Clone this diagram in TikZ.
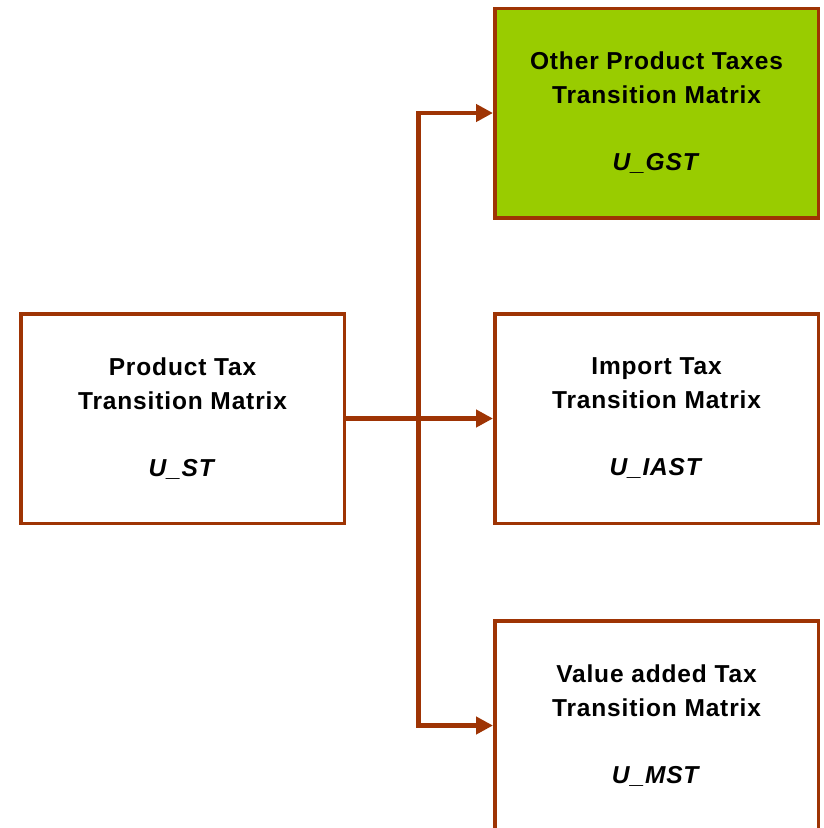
\documentclass[tikz,border=0pt]{standalone}
\usepackage{fontspec}
\setmainfont{Liberation Sans}[LetterSpace=3.5]
\usetikzlibrary{arrows.meta}
\definecolor{edgebrown}{RGB}{158,52,4}
\definecolor{leafgreen}{RGB}{153,204,0}
\tikzset{
  matbox/.style={draw=edgebrown, line width=3.5pt, fill=white, minimum width=323.5pt, minimum height=209.5pt,
    inner sep=0pt, align=center, font=\bfseries\fontsize{24.5}{34}\selectfont, text=black},
  conn/.style={draw=edgebrown, line width=4.5pt},
  arr/.style={conn, -{Triangle[length=17pt,width=17pt]}, shorten >=0pt}
}
\begin{document}
\begin{tikzpicture}[x=1pt,y=-1pt]
\useasboundingbox (0,0) rectangle (823,828);
\clip (0,0) rectangle (823,828);
\node[matbox] (L) at (182.5,418.5) {Product Tax\\Transition Matrix\\[33pt]\textit{U\_ST}};
\node[matbox, fill=leafgreen] (R1) at (656.5,113) {Other Product Taxes\\Transition Matrix\\[33pt]\textit{U\_GST}};
\node[matbox] (R2) at (656.5,418.5) {Import Tax\\Transition Matrix\\[33pt]\textit{U\_IAST}};
\node[matbox] (R3) at (656.5,725.5) {Value added Tax\\Transition Matrix\\[33pt]\textit{U\_MST}};
\coordinate (J) at (418.5,418.5);
\draw[arr] (L.east) -- (R2.west);
\draw[arr] (J) |- (R1.west);
\draw[arr] (J) |- (R3.west);
\end{tikzpicture}
\end{document}
